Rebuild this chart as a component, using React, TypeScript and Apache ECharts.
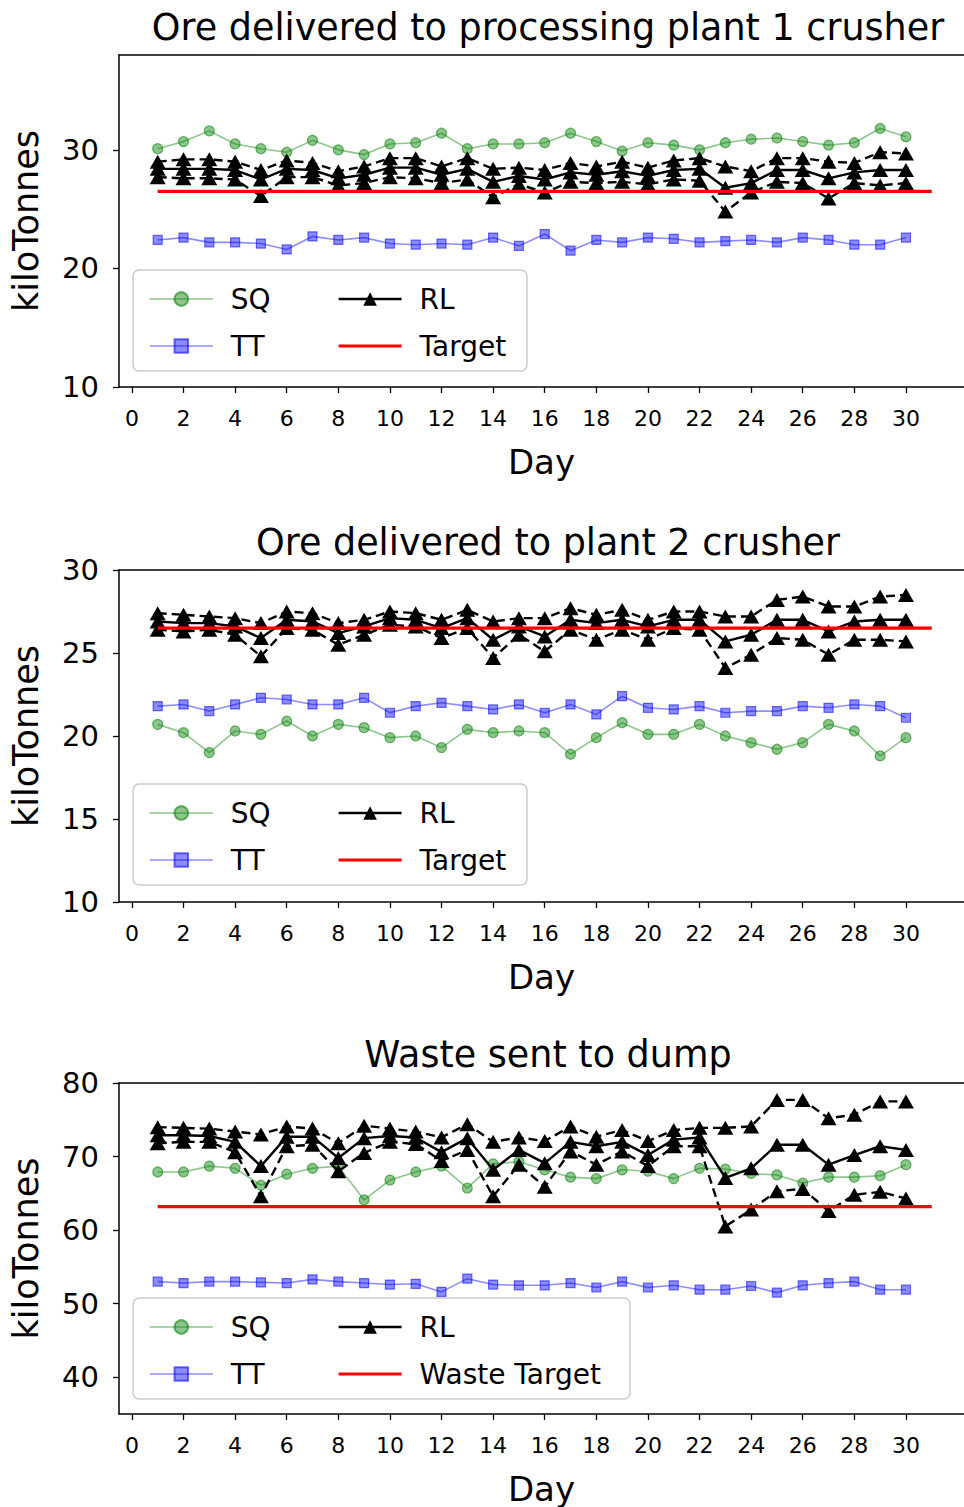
import React, { useEffect, useRef } from "react";
import * as echarts from "echarts";

const days = [1,2,3,4,5,6,7,8,9,10,11,12,13,14,15,16,17,18,19,20,21,22,23,24,25,26,27,28,29,30];
const xTicks = [0,2,4,6,8,10,12,14,16,18,20,22,24,26,28,30];
const titles = ["Ore delivered to processing plant 1 crusher", "Ore delivered to plant 2 crusher", "Waste sent to dump"];
const targetNames = ["Target", "Target", "Waste Target"];
const targetDays = [1, 31];

// Plot 1
const sq1 = [30.1,30.7,31.6,30.5,30.1,29.8,30.8,30.0,29.6,30.5,30.6,31.4,30.1,30.5,30.5,30.6,31.4,30.7,29.9,30.6,30.4,30.0,30.6,30.9,31.0,30.7,30.4,30.6,31.8,31.1];
const tt1 = [22.4,22.6,22.2,22.2,22.1,21.6,22.7,22.4,22.6,22.1,22.0,22.1,22.0,22.6,21.9,22.9,21.5,22.4,22.2,22.6,22.5,22.2,22.3,22.4,22.2,22.6,22.4,22.0,22.0,22.6];
const rlHi1 = [29.0,29.2,29.2,29.0,28.3,29.1,28.9,28.2,28.6,29.3,29.3,28.6,29.3,28.4,28.5,28.3,28.9,28.6,29.0,28.5,29.1,29.3,28.6,28.2,29.3,29.3,29.0,28.9,29.8,29.7];
const rlMid1 = [28.4,28.4,28.4,28.3,27.5,28.4,28.3,27.6,27.9,28.5,28.5,27.9,28.4,27.3,27.8,27.5,28.1,27.9,28.2,27.8,28.3,28.4,26.8,27.2,28.3,28.3,27.6,28.1,28.3,28.3];
const rlLo1 = [27.7,27.6,27.6,27.5,26.1,27.7,27.7,27.0,27.2,27.7,27.6,27.2,27.5,26.0,27.1,26.4,27.3,27.2,27.3,27.1,27.5,27.4,24.8,26.4,27.3,27.2,25.9,27.2,27.0,27.2];
const target1 = [26.5, 26.5];

// Plot 2
const sq2 = [20.7,20.2,19.0,20.3,20.1,20.9,20.0,20.7,20.5,19.9,20.0,19.3,20.4,20.2,20.3,20.2,18.9,19.9,20.8,20.1,20.1,20.7,20.0,19.6,19.2,19.6,20.7,20.3,18.8,19.9];
const tt2 = [21.8,21.9,21.5,21.9,22.3,22.2,21.9,21.9,22.3,21.4,21.8,22.0,21.8,21.6,21.9,21.4,21.9,21.3,22.4,21.7,21.6,21.8,21.4,21.5,21.5,21.8,21.7,21.9,21.8,21.1];
const rlHi2 = [27.4,27.3,27.2,27.1,26.8,27.5,27.4,26.8,27.0,27.5,27.4,27.0,27.6,26.9,27.1,27.1,27.7,27.3,27.6,27.0,27.5,27.5,27.2,27.2,28.2,28.4,27.8,27.8,28.4,28.5];
const rlMid2 = [26.9,26.8,26.8,26.6,25.9,27.0,26.9,26.2,26.6,27.1,27.0,26.5,27.1,25.8,26.6,26.0,27.0,26.8,27.0,26.6,27.0,27.0,25.7,26.1,27.0,27.0,26.3,26.9,27.0,27.0];
const rlLo2 = [26.4,26.3,26.4,26.1,24.8,26.5,26.4,25.5,26.1,26.7,26.6,25.9,26.5,24.7,26.1,25.1,26.4,25.8,26.4,25.8,26.5,26.4,24.1,24.9,25.9,25.8,24.9,25.8,25.8,25.7];
const target2 = [26.5, 26.5];

// Plot 3
const sq3 = [67.9,67.9,68.7,68.4,66.1,67.6,68.4,68.7,64.1,66.8,67.9,68.7,65.7,69.0,69.3,68.2,67.2,67.0,68.2,68.0,67.0,68.4,68.3,67.7,67.5,66.4,67.2,67.2,67.4,68.9];
const tt3 = [53.0,52.8,53.0,53.0,52.9,52.8,53.3,53.0,52.8,52.6,52.7,51.6,53.4,52.6,52.5,52.5,52.8,52.2,53.0,52.2,52.5,51.9,51.9,52.4,51.5,52.5,52.8,53.0,51.9,51.9];
const rlHi3 = [74.0,73.9,73.8,73.4,73.0,74.1,73.8,71.8,74.2,73.8,73.4,72.6,74.4,72.0,72.6,72.1,74.1,72.7,73.6,72.1,73.6,73.9,73.9,74.1,77.7,77.7,75.2,75.7,77.5,77.5];
const rlMid3 = [72.9,72.9,72.8,72.0,68.7,72.7,72.7,69.8,72.5,72.8,72.6,70.6,72.5,68.2,70.9,69.1,72.0,71.4,72.0,70.2,72.3,72.6,67.1,68.4,71.6,71.6,68.9,70.2,71.4,70.9];
const rlLo3 = [71.8,72.0,72.0,70.6,64.6,71.4,71.6,68.0,70.5,72.0,71.7,69.4,70.9,64.6,68.9,65.9,70.7,68.9,70.7,68.7,71.4,71.4,60.5,62.8,65.3,65.6,62.6,64.8,65.2,64.3];
const target3 = [63.2, 63.2];

const yMins = [10, 10, 35];
const yMaxs = [38, 30, 80];
const yTicks = [[10,20,30],[10,15,20,25,30],[40,50,60,70,80]];

const panels = [
  { sq: sq1, tt: tt1, hi: rlHi1, mid: rlMid1, lo: rlLo1, target: target1 },
  { sq: sq2, tt: tt2, hi: rlHi2, mid: rlMid2, lo: rlLo2, target: target2 },
  { sq: sq3, tt: tt3, hi: rlHi3, mid: rlMid3, lo: rlLo3, target: target3 },
];

const gridTops = [55, 570, 1083];
const gridHeight = 332;
const titleTops = [4, 519, 1031];
const legendBoxes = [
  { x: 133, y: 270, w: 394, h: 101 },
  { x: 133, y: 784, w: 394, h: 101 },
  { x: 133, y: 1298, w: 497, h: 101 },
];

const FONT = "DejaVu Sans";

function pairs(xs: number[], ys: number[]) {
  return xs.map((x, i) => [x, ys[i]]);
}

export default function App() {
  const ref = useRef<HTMLDivElement>(null);
  useEffect(() => {
    if (!ref.current) return;
    const chart = echarts.init(ref.current, null, { renderer: "svg" });

    const grid: any[] = [];
    const xAxis: any[] = [];
    const yAxis: any[] = [];
    const series: any[] = [];
    const legend: any[] = [];
    const title: any[] = [];
    const graphic: any[] = [];

    panels.forEach((p, i) => {
      title.push({
        text: titles[i],
        left: 543,
        top: titleTops[i],
        textAlign: "center",
        textStyle: { fontFamily: FONT, fontSize: 36.5, fontWeight: "normal", color: "#000" },
      });
      grid.push({
        left: 118,
        top: gridTops[i],
        right: 0,
        height: gridHeight,
      });
      xAxis.push({
        type: "value",
        gridIndex: i,
        position: "bottom",
        min: -0.5,
        max: 32.25,
        name: "Day",
        nameLocation: "middle",
        nameGap: 58,
        nameTextStyle: { fontFamily: FONT, fontSize: 34, color: "#000" },
        axisLine: { show: true, onZero: false, lineStyle: { color: "#000", width: 1.5 } },
        axisTick: { show: true, customValues: xTicks, length: 6, lineStyle: { color: "#000", width: 1.3 } },
        axisLabel: { customValues: xTicks, fontFamily: FONT, fontSize: 22, color: "#000", margin: 20 },
        splitLine: { show: false },
      });
      xAxis.push({
        type: "value",
        gridIndex: i,
        position: "top",
        min: -0.5,
        max: 32.25,
        axisLine: { show: true, onZero: false, lineStyle: { color: "#000", width: 1.5 } },
        axisTick: { show: false },
        axisLabel: { show: false },
        splitLine: { show: false },
      });
      yAxis.push({
        type: "value",
        gridIndex: i,
        min: yMins[i],
        max: yMaxs[i],
        name: "kiloTonnes",
        nameLocation: "middle",
        nameGap: 76,
        nameRotate: 90,
        nameTextStyle: { fontFamily: FONT, fontSize: 35, color: "#000" },
        axisLine: { show: true, onZero: false, lineStyle: { color: "#000", width: 1.5 } },
        axisTick: { show: true, customValues: yTicks[i], length: 6, lineStyle: { color: "#000", width: 1.3 } },
        axisLabel: { customValues: yTicks[i], fontFamily: FONT, fontSize: 29, color: "#000", margin: 20 },
        splitLine: { show: false },
      });

      const base = { type: "line", xAxisIndex: i * 2, yAxisIndex: i, clip: false };
      series.push({
        ...base,
        name: "SQ",
        data: pairs(days, p.sq),
        symbol: "circle",
        symbolSize: 10,
        lineStyle: { color: "rgba(0,128,0,0.45)", width: 1.6 },
        itemStyle: { color: "rgba(0,128,0,0.45)", borderColor: "rgba(0,128,0,0.55)", borderWidth: 1.2 },
        z: 2,
      });
      series.push({
        ...base,
        name: "TT",
        data: pairs(days, p.tt),
        symbol: "rect",
        symbolSize: 9,
        lineStyle: { color: "rgba(0,0,255,0.45)", width: 1.6 },
        itemStyle: { color: "rgba(0,0,255,0.45)", borderColor: "rgba(0,0,255,0.55)", borderWidth: 1.2 },
        z: 2,
      });
      const rlStyle = { symbol: "triangle", symbolSize: [16, 14], itemStyle: { color: "#000" }, z: 3 };
      series.push({
        ...base,
        ...rlStyle,
        name: "RL upper",
        data: pairs(days, p.hi),
        lineStyle: { color: "#000", width: 2.4, type: [9, 5] },
      });
      series.push({
        ...base,
        ...rlStyle,
        name: "RL lower",
        data: pairs(days, p.lo),
        lineStyle: { color: "#000", width: 2.4, type: [9, 5] },
      });
      series.push({
        ...base,
        ...rlStyle,
        name: "RL",
        data: pairs(days, p.mid),
        lineStyle: { color: "#000", width: 2.4 },
      });
      series.push({
        ...base,
        name: targetNames[i],
        data: pairs(targetDays, p.target),
        symbol: "none",
        lineStyle: { color: "#ff0000", width: 3.2 },
        itemStyle: { color: "#ff0000" },
        z: 4,
      });

      const box = legendBoxes[i];
      graphic.push({
        type: "rect",
        shape: { x: box.x, y: box.y, width: box.w, height: box.h, r: 6 },
        style: { fill: "rgba(255,255,255,0.8)", stroke: "#cccccc", lineWidth: 1.5 },
        z: 10,
      });
      const legendCommon = {
        orient: "vertical",
        top: box.y + 9,
        itemWidth: 63,
        itemHeight: 17,
        itemGap: 17,
        selectedMode: false,
        z: 11,
        textStyle: { fontFamily: FONT, fontSize: 28, color: "#000", lineHeight: 30, padding: [0, 0, 0, 13] },
      };
      legend.push({
        ...legendCommon,
        left: 144,
        data: [
          { name: "SQ", lineStyle: { width: 1.6 } },
          { name: "TT", lineStyle: { width: 1.6 } },
        ],
      });
      legend.push({
        ...legendCommon,
        left: 332,
        data: [
          { name: "RL", lineStyle: { width: 2.6 } },
          { name: targetNames[i], itemStyle: { opacity: 0 }, lineStyle: { width: 3.2 } },
        ],
      });
    });

    chart.setOption({
      animation: false,
      backgroundColor: "#fff",
      textStyle: { fontFamily: FONT },
      title,
      grid,
      xAxis,
      yAxis,
      series,
      legend,
      graphic,
    });
    return () => chart.dispose();
  }, []);

  return (
    <div
      ref={ref}
      style={{ position: "absolute", left: 0, top: 0, width: 964, height: 1507 }}
    />
  );
}
